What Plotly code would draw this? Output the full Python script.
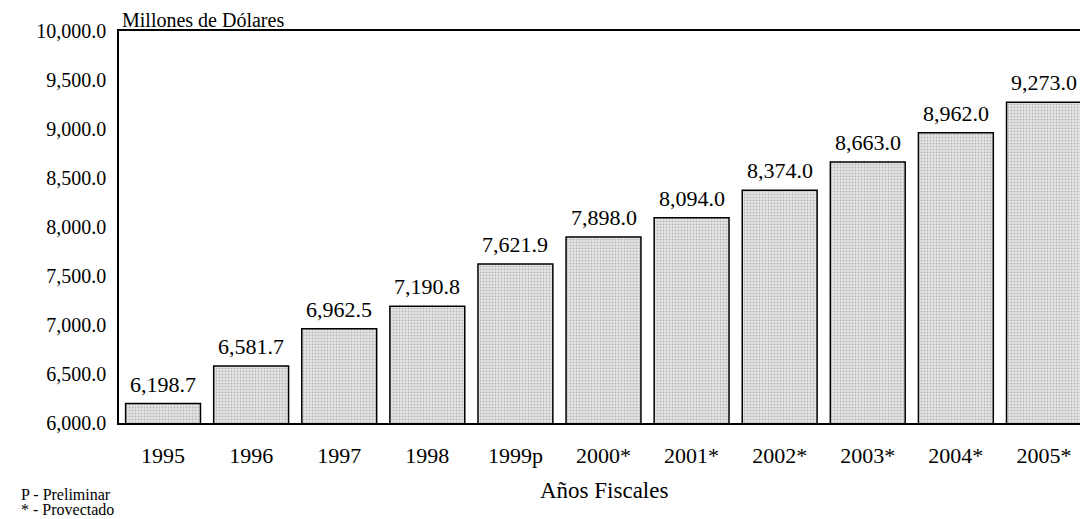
import plotly.graph_objects as go

# fiscal years and totals (millions of dollars)
years = ["1995", "1996", "1997", "1998", "1999p", "2000*", "2001*",
         "2002*", "2003*", "2004*", "2005*"]
totals = [6198.7, 6581.7, 6962.5, 7190.8, 7621.9, 7898.0, 8094.0,
          8374.0, 8663.0, 8962.0, 9273.0]
y_ticks = [6000, 6500, 7000, 7500, 8000, 8500, 9000, 9500, 10000]
notes = ["P - Preliminar", "* - Provectado"]

serif = "Liberation Serif, Times New Roman, serif"

fig = go.Figure()
fig.add_trace(go.Bar(
    x=years, y=totals,
    marker=dict(
        color="#d4d4d4",
        line=dict(color="black", width=1.5),
        pattern=dict(shape=".", fgcolor="#8a8a8a", bgcolor="#e6e6e6",
                     size=3, solidity=0.35),
    ),
    width=0.85,
))

# value labels above each bar (x given as category index; "1995" would be read as a number)
for i, v in enumerate(totals):
    fig.add_annotation(x=i, y=v, text=f"{v:,.1f}", showarrow=False,
                       yanchor="bottom", yshift=5,
                       font=dict(family=serif, size=22, color="black"))

# page body adds 8px offset, so the figure is sized/margined to compensate
fig.update_layout(
    width=1080, height=511,
    margin=dict(l=111, r=0, t=23, b=96),
    paper_bgcolor="white", plot_bgcolor="white",
    showlegend=False,
    font=dict(family=serif, color="black"),
)
fig.update_xaxes(
    type="category", categoryorder="array", categoryarray=years,
    range=[-0.5, len(years) - 0.5],
    showline=True, linecolor="black", linewidth=1.5, mirror=True,
    showgrid=False, ticks="", ticklabelstandoff=12,
    tickfont=dict(family=serif, size=22),
)
fig.update_yaxes(
    range=[6000, 10000], tickvals=y_ticks,
    ticktext=[f"{v:,.1f}" for v in y_ticks],
    showline=True, linecolor="black", linewidth=1.5,
    showgrid=False, ticks="", ticklabelstandoff=7,
    tickfont=dict(family=serif, size=20),
)

fig.add_annotation(text="Millones de Dólares", xref="paper", yref="paper",
                   x=0, y=1, xanchor="left", yanchor="bottom", xshift=1, yshift=-2,
                   showarrow=False, font=dict(family=serif, size=20))
fig.add_annotation(text="Años Fiscales", xref="paper", yref="paper",
                   x=0.5, y=0, xanchor="center", yanchor="middle", yshift=-67,
                   showarrow=False, font=dict(family=serif, size=23))
for i, note in enumerate(notes):
    fig.add_annotation(text=note, xref="paper", yref="paper",
                       x=0, y=0, xanchor="left", yanchor="middle",
                       xshift=-100, yshift=-71 - 15 * i,
                       showarrow=False, font=dict(family=serif, size=16))

fig.write_html("out.html")
